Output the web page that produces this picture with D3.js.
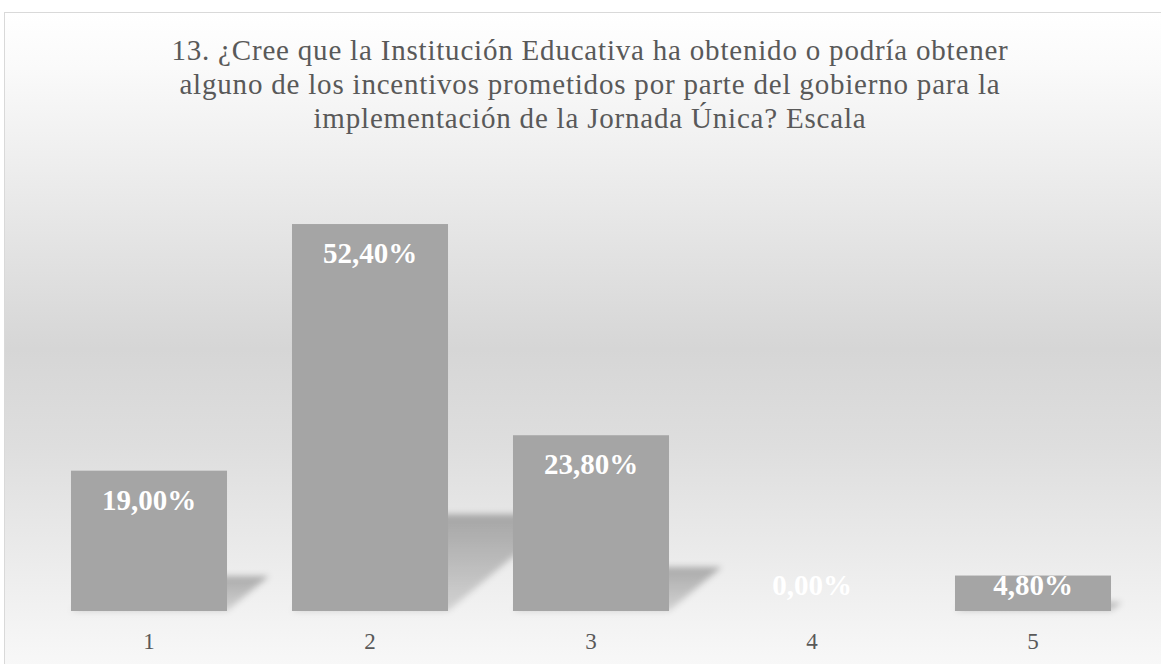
<!DOCTYPE html>
<html>
<head>
<meta charset="utf-8">
<title>Escala</title>
<style>
  body { margin: 0; padding: 0; background: #ffffff; }
  svg { display: block; }
</style>
</head>
<body>
<svg id="chart" width="1161" height="664"></svg>
<script src="https://cdn.jsdelivr.net/npm/d3@7/dist/d3.min.js"></script>
<script>
// chart data
const categories = ["1", "2", "3", "4", "5"];
const values = [0.19, 0.524, 0.238, 0.0, 0.048];
const valueLabels = ["19,00%", "52,40%", "23,80%", "0,00%", "4,80%"];
const titleLines = [
  "13. ¿Cree que la Institución Educativa ha obtenido o podría obtener",
  "alguno de los incentivos prometidos por parte del gobierno para la",
  "implementación de la Jornada Única? Escala"
];

const width = 1161;
const height = 664;
const baseY = 611;

const svg = d3.select("#chart");
const defs = svg.append("defs");

// background gradient (white -> gray -> white)
const bg = defs.append("linearGradient")
  .attr("id", "bgGrad")
  .attr("x1", 0).attr("y1", 0).attr("x2", 0).attr("y2", 1);
[[0, "#ffffff"], [0.08, "#fafafa"], [0.48, "#d6d6d6"], [0.62, "#dedede"], [0.92, "#f7f7f7"], [1, "#fbfbfb"]]
  .forEach(s => bg.append("stop").attr("offset", s[0]).attr("stop-color", s[1]));

// shadow gradient + blur
const sg = defs.append("linearGradient")
  .attr("id", "shadowGrad")
  .attr("x1", 0).attr("y1", 0).attr("x2", 0).attr("y2", 1);
sg.append("stop").attr("offset", 0).attr("stop-color", "#000").attr("stop-opacity", 0.28);
sg.append("stop").attr("offset", 1).attr("stop-color", "#000").attr("stop-opacity", 0.13);

defs.append("filter")
  .attr("id", "blur")
  .attr("x", "-20%").attr("y", "-20%").attr("width", "140%").attr("height", "140%")
  .append("feGaussianBlur")
  .attr("stdDeviation", 3);

// chart area with light border (frame runs off the right/bottom edge)
svg.append("rect")
  .attr("x", 4.5)
  .attr("y", 12.5)
  .attr("width", 1200)
  .attr("height", 700)
  .attr("fill", "url(#bgGrad)")
  .attr("stroke", "#d9d9d9")
  .attr("stroke-width", 1);

// title
svg.append("g")
  .selectAll("text")
  .data(titleLines)
  .join("text")
  .attr("x", 590)
  .attr("y", (d, i) => 60 + i * 34)
  .attr("text-anchor", "middle")
  .attr("font-family", "'Liberation Serif', serif")
  .attr("font-size", "29px")
  .attr("letter-spacing", "0.8px")
  .attr("fill", "#595959")
  .text(d => d);

// scales
const x = d3.scaleBand()
  .domain(categories)
  .range([38.5, 1143.5])
  .paddingInner(0.294)
  .paddingOuter(0.147);

const y = d3.scaleLinear()
  .domain([0, 0.6])
  .range([baseY, baseY - 0.6 * 738.5]);

const data = categories.map((c, i) => ({ cat: c, value: values[i], label: valueLabels[i] }));

// perspective shadows behind each bar
svg.append("g")
  .attr("filter", "url(#blur)")
  .selectAll("path")
  .data(data.filter(d => d.value > 0))
  .join("path")
  .attr("d", d => {
    const h = baseY - y(d.value);
    const x0 = x(d.cat);
    const x1 = x0 + x.bandwidth();
    const dx = h * 0.3;
    const dy = h * 0.25;
    return `M${x0},${baseY} L${x1},${baseY} L${x1 + dx},${baseY - dy} L${x0 + dx},${baseY - dy} Z`;
  })
  .attr("fill", "url(#shadowGrad)");

// bars
svg.append("g")
  .selectAll("rect")
  .data(data)
  .join("rect")
  .attr("x", d => x(d.cat))
  .attr("y", d => y(d.value))
  .attr("width", x.bandwidth())
  .attr("height", d => baseY - y(d.value))
  .attr("fill", "#a5a5a5");

// data labels (inside end, clamped near the base for small bars)
svg.append("g")
  .selectAll("text")
  .data(data)
  .join("text")
  .attr("x", d => x(d.cat) + x.bandwidth() / 2)
  .attr("y", d => Math.min(y(d.value) + 39, baseY - 16))
  .attr("text-anchor", "middle")
  .attr("font-family", "'Liberation Serif', serif")
  .attr("font-weight", "bold")
  .attr("font-size", "29px")
  .attr("fill", "#ffffff")
  .text(d => d.label);

// category axis labels
const xAxis = svg.append("g")
  .attr("transform", `translate(0,${baseY})`)
  .call(d3.axisBottom(x).tickSize(0).tickPadding(22));
xAxis.select(".domain").remove();
xAxis.selectAll("text")
  .attr("font-family", "'Liberation Serif', serif")
  .attr("font-size", "23px")
  .attr("fill", "#595959");
</script>
</body>
</html>
